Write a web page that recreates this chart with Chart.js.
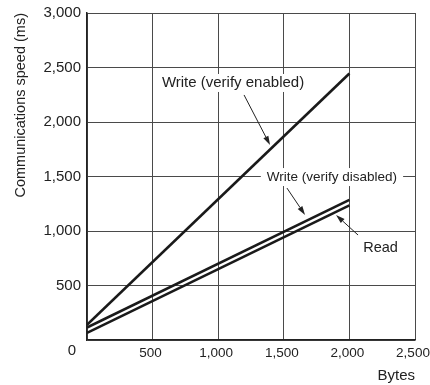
<!DOCTYPE html>
<html>
<head>
<meta charset="utf-8">
<script src="https://cdn.jsdelivr.net/npm/chart.js@4/dist/chart.umd.min.js"></script>
<style>
html,body{margin:0;padding:0;background:#fff;}
#wrap{width:430px;height:385px;position:relative;}
</style>
</head>
<body>
<div id="wrap"><canvas id="chart"></canvas></div>
<script>
// Communications speed vs bytes
const bytes = [0, 2000];
const writeVerifyOn = [140, 2445];
const writeVerifyOff = [115, 1285];
const readTimes = [65, 1235];
const xTicks = [500, 1000, 1500, 2000, 2500];
const yTicks = [500, 1000, 1500, 2000, 2500, 3000];

// callouts in data units (label centre, arrow tail, arrow head)
const notes = [
  {text: 'Write (verify enabled)', size: 15, label: [1113, 2358], tail: [1197, 2248], head: [1395, 1789]},
  {text: 'Write (verify disabled)', size: 13.5, label: [1867, 1495], tail: [1524, 1394], head: [1662, 1147]},
  {text: 'Read', size: 14.5, label: [2237, 844], tail: [2066, 963], head: [1898, 1147]}
];

const FONT = "'Liberation Sans', Arial, sans-serif";
const SIZE = 15;
const INK = '#222';

function pts(ys){ return bytes.map((b, i) => ({x: b, y: ys[i]})); }
function lineSet(label, ys){
  return {label, data: pts(ys), borderColor: '#1a1a1a', borderWidth: 2.6, pointRadius: 0, fill: false, tension: 0};
}
const fmt = v => Number(v).toLocaleString('en-US');

const callouts = {
  id: 'callouts',
  afterDraw(chart){
    const {ctx, scales: {x, y}} = chart;
    ctx.save();
    ctx.textAlign = 'center';
    ctx.textBaseline = 'middle';
    // origin label shared by both axes
    ctx.font = SIZE + 'px ' + FONT;
    ctx.fillStyle = INK;
    ctx.fillText('0', x.left - 15, y.getPixelForValue(0) + 11);
    notes.forEach(n => {
      ctx.font = n.size + 'px ' + FONT;
      const lx = x.getPixelForValue(n.label[0]), ly = y.getPixelForValue(n.label[1]);
      const w = ctx.measureText(n.text).width;
      ctx.fillStyle = '#fff';
      ctx.fillRect(lx - w / 2 - 6, ly - 9, w + 12, 18);
      ctx.fillStyle = INK;
      ctx.fillText(n.text, lx, ly);
      const tx = x.getPixelForValue(n.tail[0]), ty = y.getPixelForValue(n.tail[1]);
      const hx = x.getPixelForValue(n.head[0]), hy = y.getPixelForValue(n.head[1]);
      const a = Math.atan2(hy - ty, hx - tx);
      const len = 9, half = 2.8;
      const bx = hx - len * Math.cos(a), by = hy - len * Math.sin(a);
      ctx.strokeStyle = INK;
      ctx.lineWidth = 1;
      ctx.beginPath();
      ctx.moveTo(tx, ty);
      ctx.lineTo(bx, by);
      ctx.stroke();
      ctx.beginPath();
      ctx.moveTo(hx, hy);
      ctx.lineTo(bx + half * Math.sin(a), by - half * Math.cos(a));
      ctx.lineTo(bx - half * Math.sin(a), by + half * Math.cos(a));
      ctx.closePath();
      ctx.fill();
    });
    ctx.restore();
  }
};

new Chart(document.getElementById('chart'), {
  type: 'line',
  data: {
    datasets: [
      lineSet('Write (verify enabled)', writeVerifyOn),
      lineSet('Write (verify disabled)', writeVerifyOff),
      lineSet('Read', readTimes)
    ]
  },
  options: {
    responsive: true,
    maintainAspectRatio: false,
    animation: false,
    layout: {padding: {top: 13, right: 15, left: 0, bottom: 0}},
    plugins: {legend: {display: false}, tooltip: {enabled: false}},
    scales: {
      x: {
        type: 'linear', min: 0, max: 2500,
        afterBuildTicks: s => { s.ticks = [0].concat(xTicks).map(v => ({value: v})); },
        afterFit: s => { s.height = 45; s.paddingLeft = 0; s.paddingRight = 0; },
        grid: {color: '#4a4a4a', lineWidth: 1, drawTicks: false},
        border: {color: INK, width: 1.5},
        ticks: {
          padding: 5, labelOffset: -2, color: INK, font: {family: FONT, size: 13.5}, maxRotation: 0,
          callback: v => v === 0 ? '' : fmt(v)
        },
        title: {display: true, text: 'Bytes', align: 'end', color: INK, font: {family: FONT, size: SIZE}, padding: {top: 0, bottom: 0}}
      },
      y: {
        type: 'linear', min: 0, max: 3000,
        afterBuildTicks: s => { s.ticks = [0].concat(yTicks).map(v => ({value: v})); },
        afterFit: s => { s.width = 87; s.paddingTop = 0; s.paddingBottom = 0; },
        grid: {color: '#4a4a4a', lineWidth: 1, drawTicks: false},
        border: {color: INK, width: 1.5},
        ticks: {
          padding: 6, color: INK, font: {family: FONT, size: SIZE},
          callback: v => v === 0 ? '' : fmt(v)
        },
        title: {display: true, text: 'Communications speed (ms)', align: 'end', color: INK, font: {family: FONT, size: 14.5}, padding: {top: 12, bottom: 0}}
      }
    }
  },
  plugins: [callouts]
});
</script>
</body>
</html>
